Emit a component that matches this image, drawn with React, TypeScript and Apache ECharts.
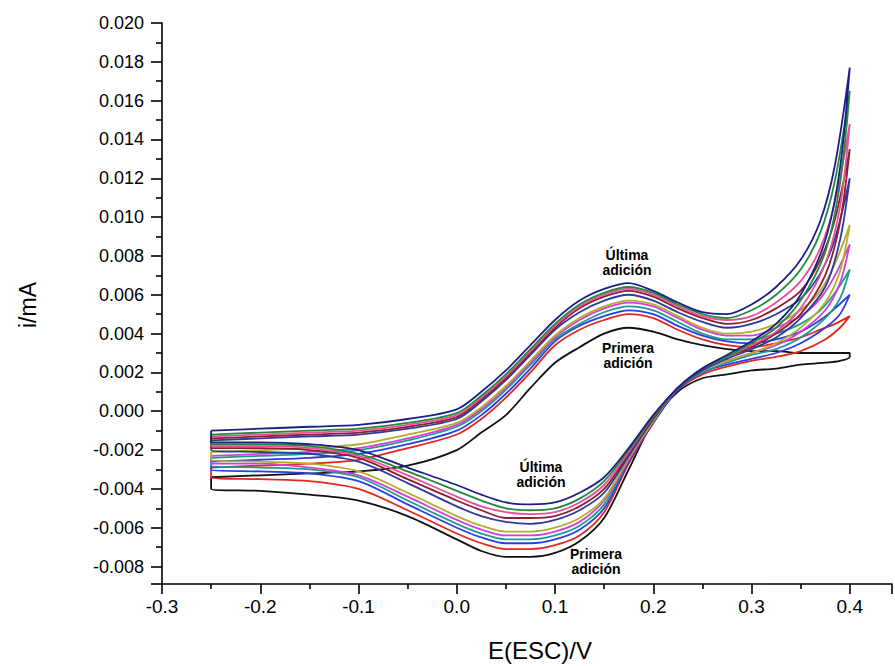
import React, { useEffect, useRef } from "react";
import * as echarts from "echarts";

// Potential grids (V) for the forward (anodic) and reverse (cathodic) sweeps
const E_FWD = [-0.25, -0.2, -0.15, -0.1, -0.05, 0, 0.025, 0.05, 0.075, 0.1, 0.125, 0.15, 0.175, 0.2, 0.225, 0.25, 0.275, 0.3, 0.325, 0.35, 0.37, 0.385, 0.4];
const E_REV = [0.4, 0.39, 0.375, 0.35, 0.325, 0.3, 0.275, 0.25, 0.225, 0.2, 0.175, 0.15, 0.125, 0.1, 0.075, 0.05, 0.025, 0, -0.05, -0.1, -0.15, -0.2, -0.25];

// Currents (mA), first addition -> last addition
const blackFwd = [-0.0034, -0.0033, -0.0032, -0.0031, -0.0028, -0.002, -0.0011, -0.0002, 0.0012, 0.0025, 0.0033, 0.004, 0.0043, 0.0041, 0.0037, 0.0034, 0.0032, 0.0031, 0.0031, 0.003, 0.003, 0.003, 0.003];
const blackRev = [0.0028, 0.0026, 0.0025, 0.0024, 0.0022, 0.0021, 0.0019, 0.0017, 0.001, -0.0005, -0.003, -0.0055, -0.0067, -0.0073, -0.0075, -0.0075, -0.0072, -0.0066, -0.0054, -0.0046, -0.0043, -0.0041, -0.004];
const redFwd = [-0.0029, -0.0028, -0.0027, -0.0025, -0.0019, -0.0012, -0.0004, 0.0007, 0.002, 0.0034, 0.0042, 0.0047, 0.005, 0.0048, 0.0042, 0.0037, 0.0034, 0.0033, 0.0035, 0.0038, 0.0042, 0.0045, 0.0049];
const redRev = [0.0049, 0.0043, 0.0037, 0.0031, 0.0028, 0.0026, 0.0023, 0.0019, 0.0011, -0.0006, -0.0027, -0.0052, -0.0064, -0.0069, -0.0071, -0.0071, -0.0068, -0.0063, -0.0051, -0.004, -0.0036, -0.0035, -0.0034];
const blueFwd = [-0.0026, -0.0025, -0.0024, -0.0022, -0.0017, -0.001, -0.0002, 0.0009, 0.0022, 0.0036, 0.0044, 0.0049, 0.0052, 0.005, 0.0044, 0.0039, 0.0036, 0.0035, 0.0037, 0.0041, 0.0047, 0.0053, 0.006];
const blueRev = [0.006, 0.005, 0.0043, 0.0035, 0.003, 0.0027, 0.0024, 0.002, 0.0011, -0.0006, -0.0026, -0.005, -0.0061, -0.0066, -0.0068, -0.0068, -0.0065, -0.006, -0.0048, -0.0036, -0.0032, -0.0031, -0.003];
const tealFwd = [-0.0024, -0.0023, -0.0022, -0.002, -0.0015, -0.0008, 0.0, 0.0011, 0.0024, 0.0037, 0.0045, 0.0051, 0.0054, 0.0052, 0.0046, 0.004, 0.0037, 0.0037, 0.004, 0.0045, 0.0052, 0.0061, 0.0073];
const tealRev = [0.0073, 0.0058, 0.0048, 0.0038, 0.0032, 0.0029, 0.0025, 0.002, 0.0012, -0.0005, -0.0025, -0.0048, -0.0059, -0.0064, -0.0066, -0.0066, -0.0063, -0.0058, -0.0046, -0.0034, -0.003, -0.0029, -0.0028];
const magentaFwd = [-0.0023, -0.0022, -0.0021, -0.0019, -0.0014, -0.0007, 0.0001, 0.0012, 0.0025, 0.0038, 0.0047, 0.0053, 0.0056, 0.0054, 0.0048, 0.0042, 0.0039, 0.0039, 0.0043, 0.0049, 0.0058, 0.007, 0.0086];
const magentaRev = [0.0086, 0.0066, 0.0052, 0.0041, 0.0034, 0.003, 0.0026, 0.0021, 0.0012, -0.0005, -0.0025, -0.0046, -0.0057, -0.0062, -0.0064, -0.0064, -0.0061, -0.0056, -0.0044, -0.0033, -0.0029, -0.0027, -0.0027];
const oliveFwd = [-0.0021, -0.002, -0.0019, -0.0017, -0.0012, -0.0006, 0.0002, 0.0013, 0.0026, 0.0039, 0.0048, 0.0054, 0.0057, 0.0055, 0.0049, 0.0043, 0.004, 0.0041, 0.0045, 0.0052, 0.0062, 0.0076, 0.0096];
const oliveRev = [0.0096, 0.0072, 0.0056, 0.0043, 0.0035, 0.003, 0.0026, 0.0021, 0.0012, -0.0005, -0.0024, -0.0045, -0.0055, -0.006, -0.0062, -0.0062, -0.0059, -0.0054, -0.0042, -0.0031, -0.0027, -0.0026, -0.0025];
const blue2Fwd = [-0.0015, -0.0014, -0.0013, -0.0012, -0.0009, -0.0004, 0.0005, 0.0016, 0.0029, 0.0042, 0.0051, 0.0057, 0.006, 0.0057, 0.0051, 0.0046, 0.0043, 0.0045, 0.005, 0.0058, 0.0071, 0.0089, 0.012];
const blue2Rev = [0.012, 0.0088, 0.0064, 0.0048, 0.0038, 0.0032, 0.0027, 0.0021, 0.0012, -0.0004, -0.0023, -0.0042, -0.0051, -0.0056, -0.0058, -0.0057, -0.0054, -0.0049, -0.0037, -0.0026, -0.0022, -0.0021, -0.002];
const darkredFwd = [-0.0014, -0.0013, -0.0012, -0.0011, -0.0008, -0.0003, 0.0006, 0.0017, 0.003, 0.0043, 0.0053, 0.0059, 0.0062, 0.0059, 0.0053, 0.0048, 0.0045, 0.0047, 0.0053, 0.0062, 0.0078, 0.0099, 0.0135];
const darkredRev = [0.0135, 0.0097, 0.007, 0.005, 0.004, 0.0033, 0.0028, 0.0022, 0.0012, -0.0004, -0.0022, -0.004, -0.0049, -0.0054, -0.0055, -0.0055, -0.0051, -0.0046, -0.0035, -0.0024, -0.002, -0.0019, -0.0019];
const pinkFwd = [-0.0013, -0.0012, -0.0011, -0.001, -0.0007, -0.0002, 0.0007, 0.0018, 0.0031, 0.0044, 0.0054, 0.006, 0.0063, 0.006, 0.0054, 0.0049, 0.0047, 0.0049, 0.0056, 0.0067, 0.0084, 0.0108, 0.0148];
const pinkRev = [0.0148, 0.0105, 0.0076, 0.0053, 0.0041, 0.0034, 0.0028, 0.0022, 0.0012, -0.0003, -0.0021, -0.0038, -0.0047, -0.0052, -0.0053, -0.0052, -0.0049, -0.0044, -0.0033, -0.0023, -0.0019, -0.0018, -0.0018];
const greenFwd = [-0.0012, -0.0011, -0.001, -0.0009, -0.0006, -0.0001, 0.0008, 0.0019, 0.0032, 0.0045, 0.0055, 0.0061, 0.0064, 0.0061, 0.0055, 0.005, 0.0048, 0.0052, 0.006, 0.0073, 0.0092, 0.0119, 0.0165];
const greenRev = [0.0165, 0.0117, 0.0082, 0.0057, 0.0043, 0.0035, 0.0028, 0.0022, 0.0012, -0.0003, -0.002, -0.0036, -0.0045, -0.005, -0.0051, -0.005, -0.0046, -0.0041, -0.0031, -0.0022, -0.0018, -0.0017, -0.0017];
const navyFwd = [-0.001, -0.0009, -0.0008, -0.0007, -0.0004, 0.0001, 0.001, 0.0021, 0.0034, 0.0047, 0.0057, 0.0063, 0.0066, 0.0062, 0.0056, 0.0051, 0.005, 0.0055, 0.0064, 0.0078, 0.0098, 0.0127, 0.0177];
const navyRev = [0.0177, 0.0125, 0.0088, 0.006, 0.0045, 0.0036, 0.0029, 0.0022, 0.0012, -0.0002, -0.0019, -0.0034, -0.0042, -0.0047, -0.0048, -0.0047, -0.0043, -0.0038, -0.0029, -0.002, -0.0017, -0.0016, -0.0016];

const CURVES = [
  { name: "Primera adición", color: "#111111", fwd: blackFwd, rev: blackRev },
  { name: "2", color: "#e5281e", fwd: redFwd, rev: redRev },
  { name: "3", color: "#2a3fe0", fwd: blueFwd, rev: blueRev },
  { name: "4", color: "#1f9a90", fwd: tealFwd, rev: tealRev },
  { name: "5", color: "#d43fd8", fwd: magentaFwd, rev: magentaRev },
  { name: "6", color: "#b2ae2e", fwd: oliveFwd, rev: oliveRev },
  { name: "7", color: "#2c3a9e", fwd: blue2Fwd, rev: blue2Rev },
  { name: "8", color: "#8c1f30", fwd: darkredFwd, rev: darkredRev },
  { name: "9", color: "#ea4f9c", fwd: pinkFwd, rev: pinkRev },
  { name: "10", color: "#238a3c", fwd: greenFwd, rev: greenRev },
  { name: "Última adición", color: "#1b1f86", fwd: navyFwd, rev: navyRev },
];

const X_TICKS = [-0.3, -0.2, -0.1, 0.0, 0.1, 0.2, 0.3, 0.4];
const Y_TICKS = [-0.008, -0.006, -0.004, -0.002, 0.0, 0.002, 0.004, 0.006, 0.008, 0.01, 0.012, 0.014, 0.016, 0.018, 0.02];

const isTick = (v: number, list: number[]) => list.some((t) => Math.abs(t - v) < 1e-9);

export default function App() {
  const ref = useRef<HTMLDivElement>(null);
  useEffect(() => {
    document.body.style.margin = "0";
    if (!ref.current) return;
    const chart = echarts.init(ref.current, undefined, { renderer: "svg" });
    const series = CURVES.map((c) => {
      const pts: number[][] = [];
      E_FWD.forEach((e, i) => pts.push([e, c.fwd[i]]));
      E_REV.forEach((e, i) => pts.push([e, c.rev[i]]));
      pts.push([E_FWD[0], c.fwd[0]]);
      return {
        type: "line",
        name: c.name,
        data: pts,
        showSymbol: false,
        smooth: 0.3,
        lineStyle: { color: c.color, width: 1.8 },
        itemStyle: { color: c.color },
      };
    });
    const font = "Liberation Sans, Arial, sans-serif";
    chart.setOption({
      animation: false,
      backgroundColor: "#ffffff",
      grid: { left: 162, right: 0, top: 23, bottom: 82, containLabel: false },
      xAxis: {
        type: "value",
        min: -0.3,
        max: 0.443,
        splitNumber: 7,
        axisLine: { show: true, onZero: false, lineStyle: { color: "#000", width: 1.6 } },
        axisTick: { show: true, length: 10, lineStyle: { color: "#000", width: 1.6 } },
        minorTick: { show: true, splitNumber: 2, length: 5, lineStyle: { color: "#000", width: 1.6 } },
        splitLine: { show: false },
        axisLabel: {
          color: "#000",
          fontSize: 19,
          fontFamily: font,
          margin: 13,
          formatter: (v: number) => (isTick(v, X_TICKS) ? v.toFixed(1) : ""),
        },
      },
      yAxis: {
        type: "value",
        min: -0.0089,
        max: 0.02,
        splitNumber: 15,
        axisLine: { show: true, onZero: false, lineStyle: { color: "#000", width: 1.6 } },
        axisTick: { show: true, length: 11, lineStyle: { color: "#000", width: 1.6 } },
        minorTick: { show: true, splitNumber: 2, length: 6, lineStyle: { color: "#000", width: 1.6 } },
        splitLine: { show: false },
        axisLabel: {
          color: "#000",
          fontSize: 18,
          fontFamily: font,
          margin: 18,
          formatter: (v: number) => (isTick(v, Y_TICKS) ? v.toFixed(3) : ""),
        },
      },
      graphic: [
        { type: "text", x: 28, y: 305, rotation: Math.PI / 2, style: { text: "i/mA", font: `23px ${font}`, fill: "#000", textAlign: "center", textVerticalAlign: "middle" } },
        { type: "text", x: 540, y: 650, style: { text: "E(ESC)/V", font: `24px ${font}`, fill: "#000", textAlign: "center", textVerticalAlign: "middle" } },
        { type: "text", x: 627, y: 262, style: { text: "Última\nadición", font: `bold 14px ${font}`, lineHeight: 15, fill: "#000", textAlign: "center", textVerticalAlign: "middle" } },
        { type: "text", x: 628, y: 355, style: { text: "Primera\nadición", font: `bold 14px ${font}`, lineHeight: 15, fill: "#000", textAlign: "center", textVerticalAlign: "middle" } },
        { type: "text", x: 541, y: 474, style: { text: "Última\nadición", font: `bold 14px ${font}`, lineHeight: 15, fill: "#000", textAlign: "center", textVerticalAlign: "middle" } },
        { type: "text", x: 596, y: 561, style: { text: "Primera\nadición", font: `bold 14px ${font}`, lineHeight: 15, fill: "#000", textAlign: "center", textVerticalAlign: "middle" } },
      ],
      series,
    });
    return () => chart.dispose();
  }, []);
  return <div ref={ref} style={{ width: 895, height: 666 }} />;
}
